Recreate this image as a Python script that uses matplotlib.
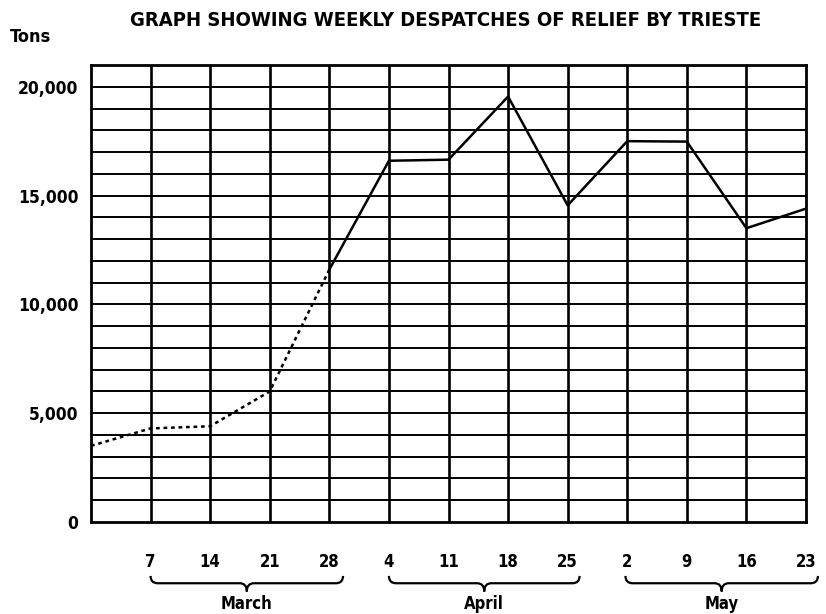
import matplotlib
matplotlib.use("Agg")
import matplotlib.pyplot as plt
from matplotlib.path import Path
from matplotlib.patches import PathPatch
import matplotlib.transforms as mtransforms
from matplotlib import font_manager

# ---- data ----
week_labels = ["", "7", "14", "21", "28", "4", "11", "18", "25", "2", "9", "16", "23"]
tons = [3500, 4300, 4400, 6000, 11600, 16600, 16650, 19550, 14550, 17500, 17480, 13500, 14400]
dotted_upto = 4  # index where the dotted (estimated) part ends
months = ["March", "April", "May"]
ytick_vals = [0, 5000, 10000, 15000, 20000]
ytick_labels = ["0", "5,000", "10,000", "15,000", "20,000"]

names = {f.name for f in font_manager.fontManager.ttflist}
fam = "Liberation Sans Narrow" if "Liberation Sans Narrow" in names else "DejaVu Sans"
plt.rcParams['font.family'] = [fam, 'DejaVu Sans']
plt.rcParams['font.stretch'] = 'condensed'

fig = plt.figure(figsize=(8.26, 6.14), dpi=100)
ax = fig.add_axes([91/826, 1 - 522/614, (806-91)/826, (522-65)/614])

x = list(range(len(tons)))
ax.set_xlim(0, len(tons) - 1)
ax.set_ylim(0, 21000)

# grid
for yv in range(1000, 21000, 1000):
    ax.axhline(yv, color="black", lw=1.4, zorder=1)
for xv in range(1, len(tons) - 1):
    ax.axvline(xv, color="black", lw=1.9, zorder=1)
for s in ax.spines.values():
    s.set_linewidth(2.0)

# line
ax.plot(x[:dotted_upto + 1], tons[:dotted_upto + 1], color="black", lw=1.8,
        linestyle=(0, (1.5, 1.5)), zorder=3)
ax.plot(x[dotted_upto:], tons[dotted_upto:], color="black", lw=1.8, zorder=3)

# ticks
ax.set_yticks(ytick_vals)
ax.set_yticklabels(ytick_labels, fontsize=12.5, fontweight="bold")
ax.tick_params(axis="y", length=0, pad=9)
ax.set_xticks(x)
ax.set_xticklabels(week_labels, fontsize=12, fontweight="bold")
ax.tick_params(axis="x", length=0, pad=22)

# braces and month labels
trans = mtransforms.blended_transform_factory(ax.transData, ax.transAxes)
brace_spans = [(1.0, 4.23), (5.0, 8.2), (8.97, 12.2)]
yt, ym, yb = -0.118, -0.134, -0.152
for (x0, x1), name in zip(brace_spans, months):
    xc = (x0 + x1) / 2
    d = 0.12
    verts = [(x0, yt), (x0, ym), (x0 + d, ym),
             (xc - d, ym), (xc, ym), (xc, yb),
             (xc, ym), (xc + d, ym),
             (x1 - d, ym), (x1, ym), (x1, yt)]
    codes = [Path.MOVETO, Path.CURVE3, Path.CURVE3,
             Path.LINETO, Path.CURVE3, Path.CURVE3,
             Path.CURVE3, Path.CURVE3,
             Path.LINETO, Path.CURVE3, Path.CURVE3]
    patch = PathPatch(Path(verts, codes), transform=trans, fill=False,
                      lw=1.6, color="black", clip_on=False)
    ax.add_patch(patch)
    ax.text(xc, -0.18, name, transform=trans, ha="center", va="center",
            fontsize=12, fontweight="bold")

fig.text(446/826, 1 - 20/614, "GRAPH SHOWING WEEKLY DESPATCHES OF RELIEF BY TRIESTE",
         ha="center", va="center", fontsize=14.5, fontweight="bold")
fig.text(10/826, 1 - 37/614, "Tons", ha="left", va="center", fontsize=13, fontweight="bold")

fig.savefig("out.png", dpi=100)
